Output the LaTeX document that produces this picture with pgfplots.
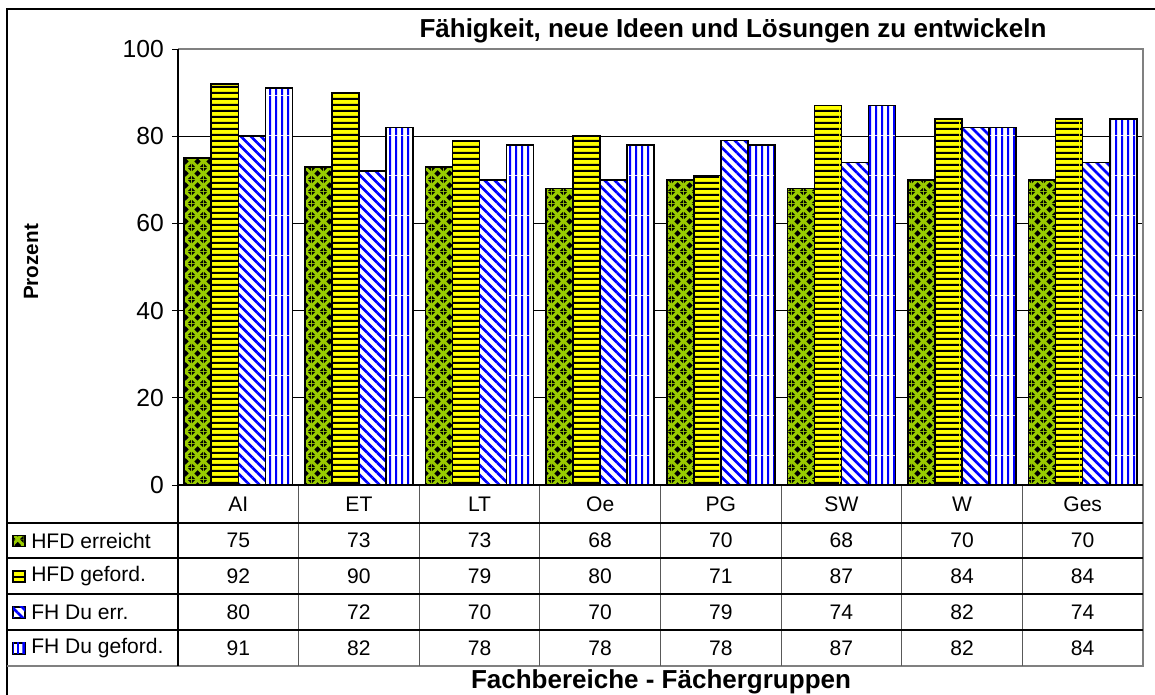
\documentclass[border=0pt]{standalone}
\usepackage{fontspec}
\setmainfont{Liberation Sans}
\usepackage{pgfplots}
\pgfplotsset{compat=1.18}
\usetikzlibrary{patterns,patterns.meta}
\definecolor{hgreen}{RGB}{153,204,0}
\definecolor{hyellow}{RGB}{255,255,0}
\definecolor{hblue}{RGB}{0,0,255}
\definecolor{framegray}{RGB}{128,128,128}

% black diamonds on green, staggered
\pgfdeclarepatternformonly{diamonds}{\pgfqpoint{0pt}{0pt}}{\pgfqpoint{9pt}{9pt}}{\pgfqpoint{9pt}{9pt}}{%
  \pgfpathmoveto{\pgfqpoint{4.5pt}{1.9pt}}\pgfpathlineto{\pgfqpoint{7.1pt}{4.5pt}}%
  \pgfpathlineto{\pgfqpoint{4.5pt}{7.1pt}}\pgfpathlineto{\pgfqpoint{1.9pt}{4.5pt}}\pgfpathclose
  \pgfpathmoveto{\pgfqpoint{0pt}{0pt}}\pgfpathlineto{\pgfqpoint{2.6pt}{0pt}}\pgfpathlineto{\pgfqpoint{0pt}{2.6pt}}\pgfpathclose
  \pgfpathmoveto{\pgfqpoint{9pt}{0pt}}\pgfpathlineto{\pgfqpoint{9pt}{2.6pt}}\pgfpathlineto{\pgfqpoint{6.4pt}{0pt}}\pgfpathclose
  \pgfpathmoveto{\pgfqpoint{9pt}{9pt}}\pgfpathlineto{\pgfqpoint{6.4pt}{9pt}}\pgfpathlineto{\pgfqpoint{9pt}{6.4pt}}\pgfpathclose
  \pgfpathmoveto{\pgfqpoint{0pt}{9pt}}\pgfpathlineto{\pgfqpoint{0pt}{6.4pt}}\pgfpathlineto{\pgfqpoint{2.6pt}{9pt}}\pgfpathclose
  \pgfusepath{fill}}
% horizontal stripes
\pgfdeclarepatternformonly{hstripes}{\pgfqpoint{0pt}{0pt}}{\pgfqpoint{30pt}{4.4pt}}{\pgfqpoint{30pt}{4.4pt}}{%
  \pgfpathrectangle{\pgfqpoint{0pt}{0pt}}{\pgfqpoint{30pt}{1.6pt}}\pgfusepath{fill}}
% vertical stripes
\pgfdeclarepatternformonly{vstripes}{\pgfqpoint{0pt}{0pt}}{\pgfqpoint{4.2pt}{30pt}}{\pgfqpoint{4.2pt}{30pt}}{%
  \pgfpathrectangle{\pgfqpoint{0pt}{0pt}}{\pgfqpoint{1.8pt}{30pt}}\pgfusepath{fill}}

\tikzset{
  sGreen/.style={fill=hgreen, postaction={pattern=diamonds, pattern color=black}},
  sYellow/.style={fill=hyellow, postaction={pattern=hstripes, pattern color=black}},
  sDiag/.style={fill=white, postaction={pattern={Lines[angle=-45,distance=5.3pt,line width=2pt]}, pattern color=hblue}},
  sVert/.style={fill=white, postaction={pattern=vstripes, pattern color=hblue}},
}

\begin{document}
\begin{tikzpicture}
\useasboundingbox (0,0) rectangle (866.25pt,521.25pt);
\begin{axis}[
  at={(133.5pt,157.5pt)}, anchor=south west,
  scale only axis, width=723.75pt, height=327pt,
  xmin=-0.5, xmax=7.5, ymin=0, ymax=100,
  ytick={0,20,...,100}, xtick=\empty,
  ymajorgrids, grid style={black, line width=0.6pt},
  axis line style={draw=none},
  ytick pos=left, tick align=outside, major tick length=4.5pt,
  tick style={black, line width=0.7pt},
  yticklabel style={font=\fontsize{18.5}{20}\selectfont, inner xsep=0pt, xshift=-6pt},
  /pgf/number format/assume math mode=true,
  ybar=0pt, bar width=0.224,
  clip=false,
]
\addplot[sGreen, draw=black, line width=1.2pt] coordinates {(0,75) (1,73) (2,73) (3,68) (4,70) (5,68) (6,70) (7,70)};
\addplot[sYellow, draw=black, line width=1.2pt] coordinates {(0,92) (1,90) (2,79) (3,80) (4,71) (5,87) (6,84) (7,84)};
\addplot[sDiag, draw=black, line width=1.2pt] coordinates {(0,80) (1,72) (2,70) (3,70) (4,79) (5,74) (6,82) (7,74)};
\addplot[sVert, draw=black, line width=1.2pt] coordinates {(0,91) (1,82) (2,78) (3,78) (4,78) (5,87) (6,82) (7,84)};
\end{axis}

\begin{scope}[x=0.75pt, y=-0.75pt, yshift=521.25pt]
  % outer frame
  \draw[black, line width=0.8pt] (7,695) -- (7,9) -- (1156,9);
  % plot frame
  \draw[framegray, line width=1.5pt] (178,49) -- (1143,49) -- (1143,485);
  % table grid
  \draw[framegray, line width=1.2pt] (1143,485) -- (1143,666) -- (7,666);
  \foreach \k in {1,...,7}
    \draw[black!65, line width=0.9pt] ({178+120.625*\k},485) -- ({178+120.625*\k},666);
  \foreach \yy in {523,558,594,630}
    \draw[black, line width=0.8pt] (7,\yy) -- (1143,\yy);
  \draw[black, line width=1pt] (178,49) -- (178,666);
  \draw[black, line width=1pt] (178,485) -- (1143,485);

  \begin{scope}[every node/.style={font=\fontsize{15.8}{17}\selectfont}]
  \foreach \c [count=\i from 0] in {AI,ET,LT,Oe,PG,SW,W,Ges}
    \node at ({178+120.625*(\i+0.5)},504) {\c};
  \foreach \v [count=\i from 0] in {75,73,73,68,70,68,70,70}
    \node at ({178+120.625*(\i+0.5)},540.5) {\v};
  \foreach \v [count=\i from 0] in {92,90,79,80,71,87,84,84}
    \node at ({178+120.625*(\i+0.5)},576) {\v};
  \foreach \v [count=\i from 0] in {80,72,70,70,79,74,82,74}
    \node at ({178+120.625*(\i+0.5)},612) {\v};
  \foreach \v [count=\i from 0] in {91,82,78,78,78,87,82,84}
    \node at ({178+120.625*(\i+0.5)},648) {\v};
  \node[anchor=west, inner xsep=0pt] at (31,540.5) {HFD erreicht};
  \node[anchor=west, inner xsep=0pt] at (31,576) {HFD geford.};
  \node[anchor=west, inner xsep=0pt] at (31,612) {FH Du err.};
  \node[anchor=west, inner xsep=0pt] at (31,648) {FH Du geford.};
  \end{scope}
  % legend keys
  \path[sGreen, draw=black, line width=1pt] (13,535.5) rectangle (25,546.5);
  \path[sYellow, draw=black, line width=1pt] (13,571) rectangle (25,582);
  \path[sDiag, draw=black, line width=1pt] (13,607) rectangle (25,618);
  \path[sVert, draw=black, line width=1pt] (13,643) rectangle (25,654);

  \node[font=\bfseries\fontsize{19.5}{22}\selectfont] at (733,31) {Fähigkeit, neue Ideen und Lösungen zu entwickeln};
  \node[font=\bfseries\fontsize{19.5}{22}\selectfont] at (661,682) {Fachbereiche - Fächergruppen};
  \node[font=\bfseries\fontsize{15.5}{18}\selectfont, rotate=90] at (31,262) {Prozent};
\end{scope}
\end{tikzpicture}
\end{document}
